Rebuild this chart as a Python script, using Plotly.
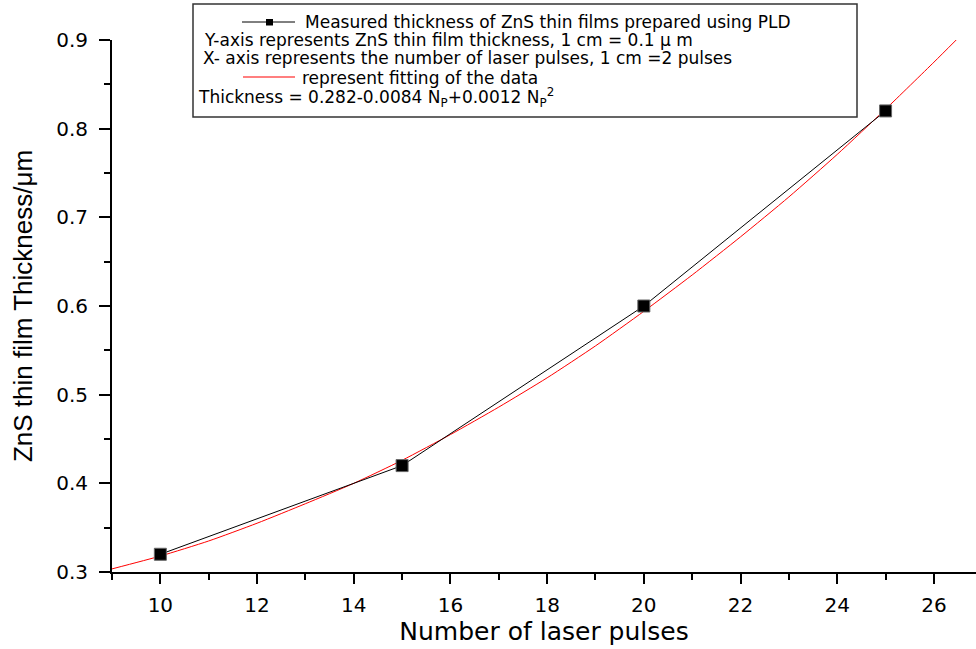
import plotly.graph_objects as go

# Measured data
pulses = [10, 15, 20, 25]
thickness = [0.32, 0.42, 0.60, 0.82]

# Fitted curve
fit_x = [9, 10, 11, 12, 13, 14, 15, 16, 17, 18, 19, 20, 21, 22, 23, 24, 25, 26, 26.46]
fit_y = [0.3035, 0.318, 0.335, 0.355, 0.377, 0.400, 0.426, 0.455, 0.486, 0.519,
         0.555, 0.594, 0.635, 0.678, 0.723, 0.771, 0.822, 0.875, 0.900]

x_ticks = [10, 12, 14, 16, 18, 20, 22, 24, 26]
y_ticks = [0.3, 0.4, 0.5, 0.6, 0.7, 0.8, 0.9]

legend_lines = [
    "Measured thickness of ZnS thin films prepared using PLD",
    "Y-axis represents ZnS thin film thickness, 1 cm = 0.1 \u03bc m",
    "X- axis represents the number of laser pulses, 1 cm =2 pulses",
    "represent fitting of the data",
    "Thickness = 0.282-0.0084 N<sub>P</sub>+0.0012 N<sub>P</sub><sup>2</sup>",
]

W, H = 976, 649
ML, MR, MT, MB = 112, 0, 40, 77
PW, PH = W - ML - MR, H - MT - MB

def px(x):
    return (x - ML) / PW

def py(y):
    return (H - MB - y) / PH

fig = go.Figure()
fig.add_trace(go.Scatter(x=fit_x, y=fit_y, mode="lines", line=dict(color="#ff0000", width=1, shape="spline", smoothing=0.6),
                         showlegend=False, cliponaxis=False))
fig.add_trace(go.Scatter(x=pulses, y=thickness, mode="lines+markers",
                         line=dict(color="black", width=1),
                         marker=dict(symbol="square", size=12, color="black", line=dict(color="#666", width=1)),
                         showlegend=False, cliponaxis=False))

AX_FONT = dict(family="DejaVu Sans, Arial, sans-serif", size=20, color="black")
XT_FONT = dict(family="DejaVu Sans, Arial, sans-serif", size=25, color="black")
YT_FONT = dict(family="Liberation Sans, Arial, sans-serif", size=26, color="black")

fig.update_xaxes(range=[9, 26.87], tickvals=x_ticks, ticks="outside", ticklen=10, tickwidth=2,
                 tickcolor="black", showline=True, linewidth=2, linecolor="black", showgrid=False,
                 zeroline=False, tickfont=AX_FONT, ticklabelstandoff=4,
                 minor=dict(dtick=1, tick0=9, ticks="outside", ticklen=6, tickwidth=2, tickcolor="black"),
                 title=dict(text="Number of laser pulses", font=XT_FONT, standoff=6))
fig.update_yaxes(range=[0.3, 0.9], tickvals=y_ticks, tickformat=".1f", ticks="outside", ticklen=11, tickwidth=2,
                 tickcolor="black", showline=True, linewidth=2, linecolor="black", showgrid=False,
                 zeroline=False, tickfont=AX_FONT, ticklabelstandoff=7,
                 minor=dict(dtick=0.05, tick0=0.3, ticks="outside", ticklen=6, tickwidth=2, tickcolor="black"),
                 title=dict(text="ZnS thin film Thickness/\u03bcm", font=YT_FONT, standoff=16))

# Legend box
shapes = [dict(type="rect", xref="paper", yref="paper", x0=px(193), x1=px(857), y0=py(117), y1=py(4),
               line=dict(color="#333", width=1.5), fillcolor="white", layer="above")]
# legend samples
shapes.append(dict(type="line", xref="paper", yref="paper", x0=px(242), x1=px(295), y0=py(22), y1=py(22),
                   line=dict(color="black", width=1)))
shapes.append(dict(type="rect", xref="paper", yref="paper", x0=px(266), x1=px(273), y0=py(25.5), y1=py(19),
                   line=dict(color="black", width=0), fillcolor="black"))
shapes.append(dict(type="line", xref="paper", yref="paper", x0=px(243), x1=px(295), y0=py(77), y1=py(77),
                   line=dict(color="#ff0000", width=1.2)))

LEG_FONT = dict(family="DejaVu Sans, Arial, sans-serif", size=17, color="black")
pos = [(303, 22), (202, 40.5), (201, 58), (300, 77.5), (196, 97.5)]
annotations = []
for txt, (x, y) in zip(legend_lines, pos):
    annotations.append(dict(text=txt, xref="paper", yref="paper", x=px(x), y=py(y), xanchor="left",
                            yanchor="middle", showarrow=False, font=LEG_FONT))

fig.update_layout(width=W, height=H, autosize=False, margin=dict(l=ML, r=MR, t=MT, b=MB),
                  plot_bgcolor="white", paper_bgcolor="white", shapes=shapes, annotations=annotations)

fig.write_html("out.html")
